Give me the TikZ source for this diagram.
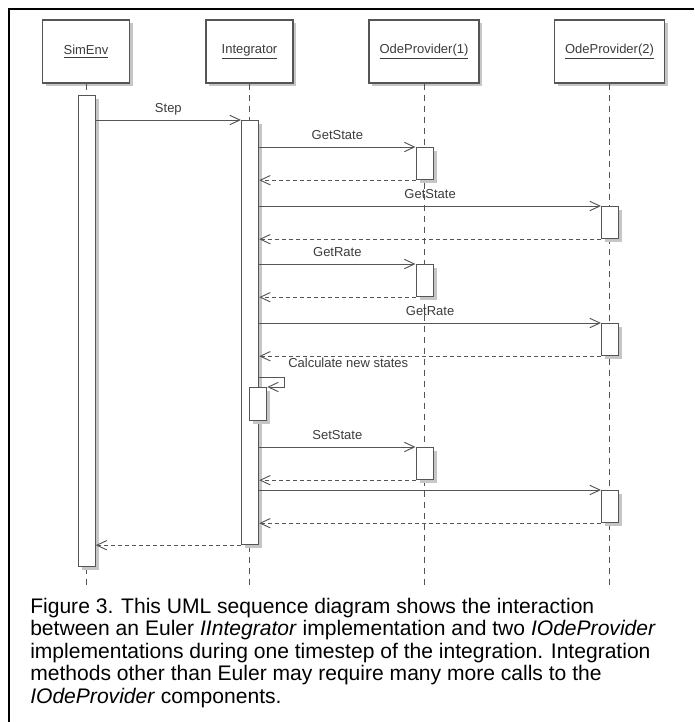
\documentclass[tikz,border=0pt]{standalone}
\usepackage{fontspec}
\setmainfont{Liberation Sans}
\usetikzlibrary{arrows.meta,shadows}
\definecolor{lnc}{HTML}{555555}
\definecolor{txc}{HTML}{3C3C3C}
\definecolor{shc}{HTML}{C6C6C6}
\begin{document}
\begin{tikzpicture}[x=0.75pt,y=-0.75pt,
  shad/.style={drop shadow={shadow xshift=2.6pt,shadow yshift=-2.6pt,fill=shc,opacity=1}},
  head/.style={draw=lnc,line width=0.9pt,fill=white,minimum height=47.25pt,inner sep=0pt,
    font=\fontsize{9.75}{11}\selectfont,text=txc,shad},
  act/.style={draw=lnc,line width=0.9pt,fill=white,minimum width=12.75pt,minimum height=24pt,
    inner sep=0pt,anchor=north west,shad},
  life/.style={draw=lnc,line width=0.7pt,dash pattern=on 4.5pt off 3.75pt},
  msg/.style={draw=lnc,line width=0.7pt,-{Straight Barb[length=7.5pt,width=7pt]}},
  ret/.style={msg,dash pattern=on 3pt off 2.25pt},
  lbl/.style={font=\fontsize{9.75}{11}\selectfont,text=txc,anchor=base,yshift=5.6pt,inner sep=0pt},
  captxt/.style={font=\fontsize{15.8}{17}\selectfont,anchor=base west,inner sep=0pt}]
\fill[white] (0,0) rectangle (694,722);
\useasboundingbox (0,0) rectangle (694,722);
% frame
\draw[line width=1.5pt] (9,722) -- (9,9) -- (694,9);
% heads
\node[head,minimum width=65.25pt] (simh) at (86,51.5) {\underline{SimEnv}};
\node[head,minimum width=65.25pt] (inth) at (249.5,51.5) {\underline{Integrator}};
\node[head,minimum width=82.5pt] (op1h) at (424,51.5) {\underline{OdeProvider(1)}};
\node[head,minimum width=82.5pt] (op2h) at (609.5,51.5) {\underline{OdeProvider(2)}};
% lifelines
\coordinate (lifeend) at (0,587);
\draw[life] (simh.south) -- (simh.south |- lifeend);
\draw[life] (inth.south) -- (inth.south |- lifeend);
\draw[life] (op1h.south) -- (op1h.south |- lifeend);
\draw[life] (op2h.south) -- (op2h.south |- lifeend);
% activations
\node[act,minimum height=353.25pt] (sima) at (77.5,95) {};
\node[act,minimum height=318pt] (inta) at (241,120) {};
\node[act] (o1a) at (415.5,147) {};
\node[act] (o2a) at (601,206) {};
\node[act] (o1b) at (415.5,264) {};
\node[act] (o2b) at (601,323) {};
\node[act,minimum height=24.75pt] (nest) at (249,387) {};
\node[act] (o1c) at (415.5,447) {};
\node[act] (o2c) at (601,490) {};
% messages
\draw[msg] (sima.east |- inta.north) -- (inta.north west) node[lbl,midway] {Step};
\draw[msg] (inta.east |- o1a.north) -- (o1a.north west) node[lbl,midway] {GetState};
\draw[ret] (o1a.south west) -- (inta.east |- o1a.south);
\draw[msg] (inta.east |- o2a.north) -- (o2a.north west) node[lbl,midway] {GetState};
\draw[ret] (o2a.south west) -- (inta.east |- o2a.south);
\draw[msg] (inta.east |- o1b.north) -- (o1b.north west) node[lbl,midway] {GetRate};
\draw[ret] (o1b.south west) -- (inta.east |- o1b.south);
\draw[msg] (inta.east |- o2b.north) -- (o2b.north west) node[lbl,midway] {GetRate};
\draw[ret] (o2b.south west) -- (inta.east |- o2b.south);
\coordinate (sc) at (284,377);
\draw[msg] (inta.east |- sc) -- (sc) |- (nest.north east);
\node[lbl,anchor=base west,yshift=0pt] (calc) at (288,375) {Calculate new states};
\draw[msg] (inta.east |- o1c.north) -- (o1c.north west) node[lbl,midway] {SetState};
\draw[ret] (o1c.south west) -- (inta.east |- o1c.south);
\draw[msg] (inta.east |- o2c.north) -- (o2c.north west);
\draw[ret] (o2c.south west) -- (inta.east |- o2c.south);
\draw[ret] (inta.south west) -- (sima.east |- inta.south);
% caption
\node[captxt] (c1) at (30,613) {Figure 3. This UML sequence diagram shows the interaction};
\node[captxt] (c2) at (30,635.5) {between an Euler \textit{IIntegrator} implementation and two \textit{IOdeProvider}};
\node[captxt] (c3) at (30,658) {implementations during one timestep of the integration. Integration};
\node[captxt] (c4) at (30,680.5) {methods other than Euler may require many more calls to the};
\node[captxt] (c5) at (30,703) {\textit{IOdeProvider} components.};
\end{tikzpicture}
\end{document}
